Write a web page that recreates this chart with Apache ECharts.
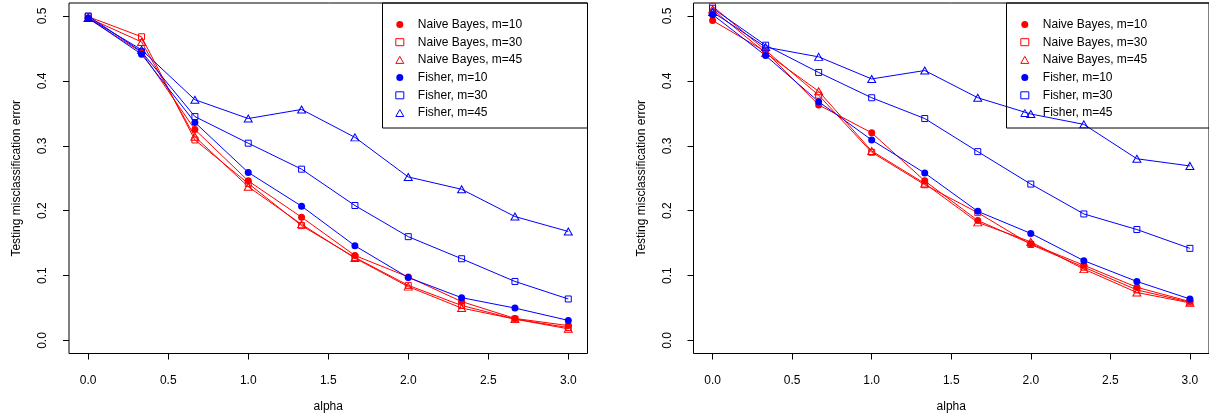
<!DOCTYPE html>
<html>
<head>
<meta charset="utf-8">
<script src="https://cdn.jsdelivr.net/npm/echarts@6/dist/echarts.min.js"></script>
<style>
  html, body { margin: 0; padding: 0; background: #fff; }
  #chart { width: 1209px; height: 418px; }
</style>
</head>
<body>
<div id="chart"></div>
<script>
// alpha grid (x axis), same for both panels
const alpha = [0, 1 / 3, 2 / 3, 1, 4 / 3, 5 / 3, 2, 7 / 3, 8 / 3, 3];
const xTicks = [0, 0.5, 1, 1.5, 2, 2.5, 3];
const yTicks = [0, 0.1, 0.2, 0.3, 0.4, 0.5];

const names = [
  "Naive Bayes, m=10",
  "Naive Bayes, m=30",
  "Naive Bayes, m=45",
  "Fisher, m=10",
  "Fisher, m=30",
  "Fisher, m=45",
];

// left panel
const leftNb10 = [0.496, 0.444, 0.325, 0.246, 0.190, 0.131, 0.098, 0.060, 0.034, 0.023];
const leftNb30 = [0.499, 0.468, 0.309, 0.242, 0.177, 0.128, 0.085, 0.054, 0.033, 0.020];
const leftNb45 = [0.497, 0.460, 0.314, 0.237, 0.179, 0.127, 0.083, 0.050, 0.033, 0.018];
const leftF10 = [0.497, 0.441, 0.336, 0.259, 0.207, 0.146, 0.097, 0.066, 0.050, 0.031];
const leftF30 = [0.500, 0.445, 0.345, 0.304, 0.264, 0.208, 0.160, 0.126, 0.091, 0.064];
const leftF45 = [0.497, 0.448, 0.371, 0.342, 0.356, 0.313, 0.252, 0.233, 0.191, 0.168];

// right panel
const rightNb10 = [0.493, 0.445, 0.363, 0.320, 0.246, 0.185, 0.149, 0.116, 0.082, 0.060];
const rightNb30 = [0.515, 0.447, 0.378, 0.290, 0.240, 0.197, 0.148, 0.113, 0.078, 0.059];
const rightNb45 = [0.510, 0.443, 0.384, 0.292, 0.242, 0.182, 0.152, 0.110, 0.074, 0.058];
const rightF10 = [0.502, 0.439, 0.368, 0.309, 0.258, 0.199, 0.165, 0.123, 0.091, 0.064];
const rightF30 = [0.512, 0.455, 0.413, 0.374, 0.342, 0.291, 0.241, 0.195, 0.171, 0.142];
const rightF45 = [0.506, 0.452, 0.437, 0.403, 0.416, 0.374, 0.349, 0.333, 0.280, 0.269];

const RED = "#ff0000";
const BLUE = "#0000ff";
const FONT = "Liberation Sans";

// symbol style per series (R pch 19 / 0 / 2)
const styles = [
  { color: RED, symbol: "circle", size: 7, hollow: false },
  { color: RED, symbol: "rect", size: 6, hollow: true },
  { color: RED, symbol: "triangle", size: [8, 7], hollow: true },
  { color: BLUE, symbol: "circle", size: 7, hollow: false },
  { color: BLUE, symbol: "rect", size: 6, hollow: true },
  { color: BLUE, symbol: "triangle", size: [8, 7], hollow: true },
];

function itemStyleFor(s) {
  return s.hollow
    ? { color: "transparent", borderColor: s.color, borderWidth: 1 }
    : { color: s.color };
}

function makeSeries(values, i, gridIdx) {
  const s = styles[i];
  return {
    name: names[i],
    type: "line",
    xAxisIndex: gridIdx,
    yAxisIndex: gridIdx,
    data: alpha.map((a, k) => [a, values[k]]),
    symbol: s.symbol,
    symbolSize: s.size,
    showSymbol: true,
    lineStyle: { color: s.color, width: 1 },
    itemStyle: itemStyleFor(s),
    emphasis: { disabled: true },
    animation: false,
  };
}

function xAxisFor(gridIdx) {
  return {
    type: "value",
    gridIndex: gridIdx,
    min: -0.12,
    max: 3.12,
    name: "alpha",
    nameLocation: "middle",
    nameGap: 47,
    nameTextStyle: { fontFamily: FONT, fontSize: 12, color: "#000" },
    axisLine: { show: false, onZero: false },
    splitLine: { show: false },
    axisTick: {
      show: true,
      length: 6,
      customValues: xTicks,
      lineStyle: { color: "#000" },
    },
    axisLabel: {
      customValues: xTicks,
      formatter: (v) => v.toFixed(1),
      margin: 21,
      fontFamily: FONT,
      fontSize: 12,
      color: "#000",
    },
  };
}

function yAxisFor(gridIdx) {
  return {
    type: "value",
    gridIndex: gridIdx,
    min: -0.02,
    max: 0.52,
    name: "Testing misclassification error",
    nameLocation: "middle",
    nameGap: 46,
    nameTextStyle: { fontFamily: FONT, fontSize: 12, color: "#000" },
    axisLine: { show: false, onZero: false },
    splitLine: { show: false },
    axisTick: {
      show: true,
      length: 6,
      customValues: yTicks,
      lineStyle: { color: "#000" },
    },
    axisLabel: {
      customValues: yTicks,
      formatter: (v) => v.toFixed(1),
      rotate: 90,
      margin: 20,
      fontFamily: FONT,
      fontSize: 12,
      color: "#000",
    },
  };
}

function legendFor(left) {
  return {
    orient: "vertical",
    left: left,
    top: 17.5,
    padding: 0,
    itemGap: 3.7,
    itemWidth: 8,
    itemHeight: 7,
    selectedMode: false,
    textStyle: {
      fontFamily: FONT,
      fontSize: 12,
      color: "#000",
      lineHeight: 14,
      padding: [0, 0, 0, 9],
    },
    data: names.map((n, i) => ({
      name: n,
      icon: styles[i].symbol,
      itemStyle: itemStyleFor(styles[i]),
    })),
  };
}

const chart = echarts.init(document.getElementById("chart"), null, { renderer: "canvas" });

const leftSets = [leftNb10, leftNb30, leftNb45, leftF10, leftF30, leftF45];
const rightSets = [rightNb10, rightNb30, rightNb45, rightF10, rightF30, rightF45];

chart.setOption({
  backgroundColor: "#fff",
  animation: false,
  grid: [
    { left: 69, top: 3, width: 518.5, height: 350.5, show: true, borderColor: "#000", borderWidth: 1 },
    { left: 693.5, top: 3, width: 518.5, height: 350.5, show: true, borderColor: "#000", borderWidth: 1 },
  ],
  xAxis: [xAxisFor(0), xAxisFor(1)],
  yAxis: [yAxisFor(0), yAxisFor(1)],
  legend: [legendFor(395.3), legendFor(1020.3)],
  graphic: [
    {
      type: "rect",
      shape: { x: 382.5, y: 3, width: 205, height: 125 },
      style: { fill: "transparent", stroke: "#000", lineWidth: 1 },
      z: 10,
    },
    {
      type: "rect",
      shape: { x: 1006.5, y: 3, width: 210, height: 125 },
      style: { fill: "transparent", stroke: "#000", lineWidth: 1 },
      z: 10,
    },
  ],
  series: [
    ...leftSets.map((v, i) => makeSeries(v, i, 0)),
    ...rightSets.map((v, i) => makeSeries(v, i, 1)),
  ],
});
</script>
</body>
</html>
